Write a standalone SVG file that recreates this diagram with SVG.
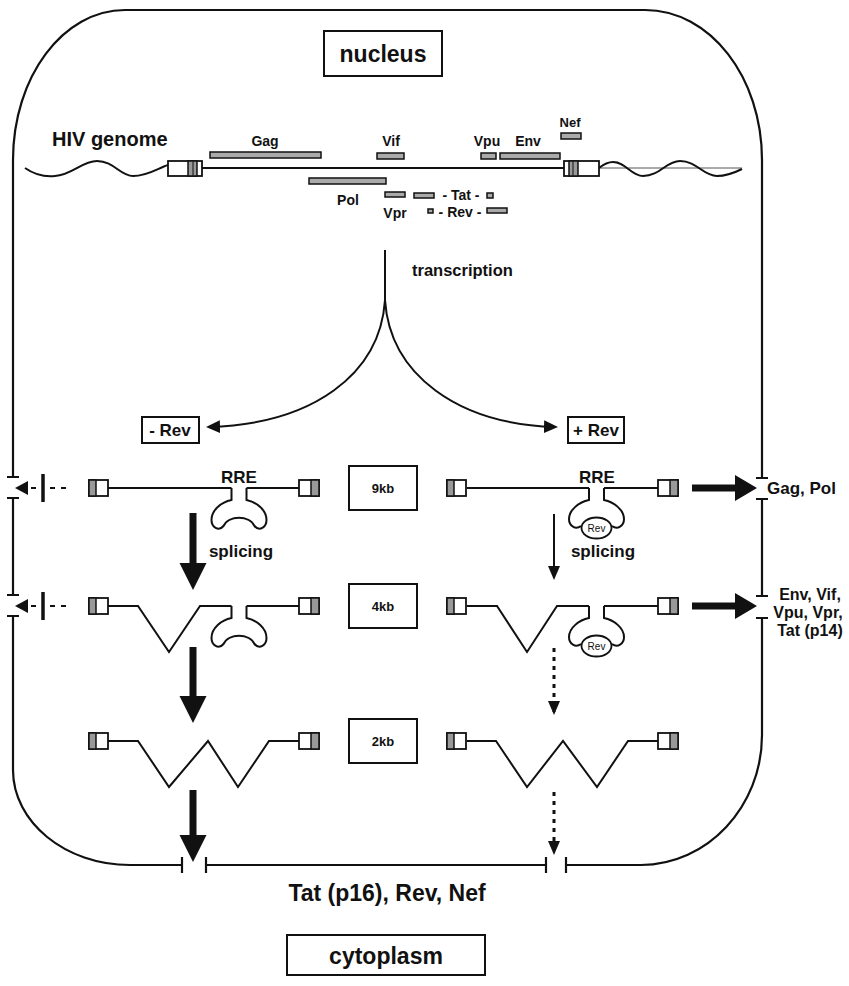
<svg xmlns="http://www.w3.org/2000/svg" xmlns:xlink="http://www.w3.org/1999/xlink" width="849" height="986" viewBox="0 0 849 986">
<style>
  text { font-family: "Liberation Sans", Arial, Helvetica, sans-serif; font-weight: bold; fill: #111; }
  .ln { fill: none; stroke: #111; stroke-width: 2; }
  .mem { fill: none; stroke: #111; stroke-width: 2.2; }
  .box { fill: #fff; stroke: #111; stroke-width: 2; }
  .bar { fill: #aaa; stroke: #111; stroke-width: 1.5; }
  .gray { fill: #999; stroke: #111; stroke-width: 1.5; }
  .ltr { fill: #fff; stroke: #111; stroke-width: 1.8; }
  .solid { fill: #111; stroke: none; }
  .dot { fill: none; stroke: #111; stroke-width: 3; stroke-dasharray: 4 5; }
  .c { text-anchor: middle; }
</style>
<defs>
  <marker id="ah" markerUnits="userSpaceOnUse" markerWidth="14" markerHeight="13" refX="11" refY="6.5" orient="auto">
    <path d="M0,0 L14,6.5 L0,13 Z" fill="#111"/>
  </marker>
  <marker id="ahv" markerUnits="userSpaceOnUse" markerWidth="14" markerHeight="12" refX="11" refY="6" orient="auto">
    <path d="M0,0 L14,6 L0,12 Z" fill="#111"/>
  </marker>
  <path id="claw" class="ln" d="M-7.5,0 V12 C-17.5,14 -27.5,22 -27.5,32 C-27.5,39 -20.5,44 -15.5,38 C-10.5,27 10.5,27 15.5,38 C20.5,44 27.5,39 27.5,32 C27.5,22 17.5,14 7.5,12 V0"/>
  <g id="clawRev">
    <path class="ln" d="M-7.5,0 V12 C-17.5,14 -27.5,22 -27.5,31 C-27.5,38 -21,42 -15.5,38 M7.5,0 V12 C17.5,14 27.5,22 27.5,31 C27.5,38 21,42 15.5,38"/>
    <ellipse cx="0" cy="40" rx="15" ry="10.5" fill="#fff" stroke="#111" stroke-width="1.8"/>
    <text x="0" y="44" class="c" style="font-size:10px;font-weight:normal">Rev</text>
  </g>
  <g id="ltrL">
    <rect x="0" y="-8" width="19" height="16" class="ltr"/>
    <rect x="0" y="-8" width="7" height="16" class="gray"/>
  </g>
  <g id="ltrR">
    <rect x="0" y="-8" width="20" height="16" class="ltr"/>
    <rect x="12" y="-8" width="8" height="16" class="gray"/>
  </g>
</defs>

<rect width="849" height="986" fill="#fff"/>

<!-- membrane / nuclear envelope -->
<g id="membrane">
  <path class="mem" d="M13,477 V160 C13,77 63,10 125,10 H645 C710,10 762,77 762,160 V478"/>
  <path class="mem" d="M7,477 H19 M756,478 H768"/>
  <path class="mem" d="M13,498 V595 M7,498 H19 M7,595 H19"/>
  <path class="mem" d="M762,499 V596 M756,499 H768 M756,596 H768"/>
  <path class="mem" d="M13,616 V770 C13,822 65,865 130,865 H182 M7,616 H19 M182,857 V873"/>
  <path class="mem" d="M206,857 V873 M206,865 H546 M546,857 V873"/>
  <path class="mem" d="M566,857 V873 M566,865 H641 C707,865 762,807 762,735 V618 M756,618 H768"/>
</g>

<g id="nucleus-label">
  <rect x="324" y="31" width="118" height="45" class="box"/>
  <text x="383" y="62" class="c" style="font-size:23px">nucleus</text>
</g>

<g id="hiv-genome">
  <text x="52" y="146" style="font-size:20px">HIV genome</text>
  <path class="ln" d="M25,168 C35,175 45,177 55,176 C72,175 82,161 97,161 C114,161 120,176 133,176 C148,176 158,168 168,165"/>
  <line x1="599" y1="168" x2="742" y2="168" stroke="#555" stroke-width="1"/>
  <path class="ln" d="M599,168 C604,164 608,162 613,162 C626,162 631,176 643,176 C660,176 666,161 680,161 C697,161 703,176 717,176 C728,176 736,172 742,169"/>
  <line x1="202" y1="168" x2="564" y2="168" class="ln"/>
  <rect x="168" y="161" width="34" height="15" class="ltr"/>
  <rect x="188" y="161" width="9" height="15" class="gray"/>
  <line x1="193" y1="161" x2="193" y2="176" stroke="#111" stroke-width="1"/>
  <rect x="564" y="161" width="35" height="15" class="ltr"/>
  <rect x="569" y="161" width="9" height="15" class="gray"/>
  <line x1="573" y1="161" x2="573" y2="176" stroke="#111" stroke-width="1"/>
  <rect x="210" y="152" width="111" height="6" class="bar"/>
  <rect x="377" y="153" width="27" height="6" class="bar"/>
  <rect x="481" y="153" width="15" height="6" class="bar"/>
  <rect x="500" y="153" width="60" height="6" class="bar"/>
  <rect x="561" y="133" width="20" height="6" class="bar"/>
  <rect x="309" y="178" width="77" height="6" class="bar"/>
  <rect x="385" y="192" width="20" height="5" class="bar"/>
  <rect x="414" y="193" width="20" height="5" class="bar"/>
  <rect x="487" y="193" width="6" height="5" class="bar"/>
  <rect x="428" y="209" width="5" height="4" class="bar"/>
  <rect x="487" y="208" width="20" height="5" class="bar"/>
  <text x="265" y="146" class="c" style="font-size:14px">Gag</text>
  <text x="391" y="146" class="c" style="font-size:14px">Vif</text>
  <text x="487" y="146" class="c" style="font-size:14px">Vpu</text>
  <text x="528" y="146" class="c" style="font-size:14px">Env</text>
  <text x="570" y="127" class="c" style="font-size:13px">Nef</text>
  <text x="348" y="205" class="c" style="font-size:14px">Pol</text>
  <text x="395" y="218" class="c" style="font-size:14px">Vpr</text>
  <text x="461" y="200" class="c" style="font-size:14px">- Tat -</text>
  <text x="460" y="217" class="c" style="font-size:14px">- Rev -</text>
</g>

<g id="transcription">
  <text x="412" y="276" style="font-size:16.5px">transcription</text>
</g>

<g id="minus-rev">
  <rect x="142" y="417" width="57" height="26" class="box"/>
  <text x="170" y="436" class="c" style="font-size:17px">- Rev</text>
</g>
<g id="plus-rev">
  <rect x="568" y="417" width="56" height="26" class="box"/>
  <text x="596" y="436" class="c" style="font-size:17px">+ Rev</text>
</g>

<!-- size boxes -->
<g id="size-9kb">
  <rect x="349" y="466" width="68" height="44" class="box"/>
  <text x="383" y="493" class="c" style="font-size:13px">9kb</text>
</g>
<g id="size-4kb">
  <rect x="349" y="584" width="68" height="44" class="box"/>
  <text x="383" y="611" class="c" style="font-size:13px">4kb</text>
</g>
<g id="size-2kb">
  <rect x="349" y="719" width="68" height="44" class="box"/>
  <text x="383" y="746" class="c" style="font-size:13px">2kb</text>
</g>

<!-- transcripts, - Rev column -->
<g id="minus-9kb">
  <path class="ln" d="M108,488 H231.5 M246.5,488 H299"/>
  <use xlink:href="#claw" href="#claw" transform="translate(239,488)"/>
  <use xlink:href="#ltrL" href="#ltrL" transform="translate(89,488)"/>
  <use xlink:href="#ltrR" href="#ltrR" transform="translate(299,488)"/>
  <text x="239" y="483" class="c" style="font-size:17px">RRE</text>
</g>
<g id="minus-4kb">
  <path class="ln" d="M108,606 H138 L169,652 L200,606 H231.5 M246.5,606 H299"/>
  <use xlink:href="#claw" href="#claw" transform="translate(239,606)"/>
  <use xlink:href="#ltrL" href="#ltrL" transform="translate(89,606)"/>
  <use xlink:href="#ltrR" href="#ltrR" transform="translate(299,606)"/>
</g>
<g id="minus-2kb">
  <path class="ln" d="M108,741 H138 L169,787 L208,741 L238,787 L269,741 H299"/>
  <use xlink:href="#ltrL" href="#ltrL" transform="translate(89,741)"/>
  <use xlink:href="#ltrR" href="#ltrR" transform="translate(299,741)"/>
</g>

<!-- transcripts, + Rev column -->
<g id="plus-9kb">
  <path class="ln" d="M467,488 H589 M604,488 H658"/>
  <use xlink:href="#clawRev" href="#clawRev" transform="translate(596.5,488)"/>
  <use xlink:href="#ltrL" href="#ltrL" transform="translate(447,488)"/>
  <use xlink:href="#ltrR" href="#ltrR" transform="translate(658,488)"/>
  <text x="597" y="483" class="c" style="font-size:17px">RRE</text>
</g>
<g id="plus-4kb">
  <path class="ln" d="M467,606 H497 L527,652 L557,606 H589 M604,606 H658"/>
  <use xlink:href="#clawRev" href="#clawRev" transform="translate(596.5,606)"/>
  <use xlink:href="#ltrL" href="#ltrL" transform="translate(447,606)"/>
  <use xlink:href="#ltrR" href="#ltrR" transform="translate(658,606)"/>
</g>
<g id="plus-2kb">
  <path class="ln" d="M467,741 H496 L527,787 L563,741 L597,787 L628,741 H658"/>
  <use xlink:href="#ltrL" href="#ltrL" transform="translate(447,741)"/>
  <use xlink:href="#ltrR" href="#ltrR" transform="translate(658,741)"/>
</g>

<g id="splicing-labels">
  <text x="241" y="557" class="c" style="font-size:17px">splicing</text>
  <text x="603" y="557" class="c" style="font-size:17px">splicing</text>
</g>

<g id="products">
  <text x="767" y="494" style="font-size:17px">Gag, Pol</text>
  <text x="810" y="600" class="c" style="font-size:16px">Env, Vif,</text>
  <text x="808" y="618" class="c" style="font-size:16px">Vpu, Vpr,</text>
  <text x="810" y="636" class="c" style="font-size:16px">Tat (p14)</text>
  <text x="387" y="901" class="c" style="font-size:23px">Tat (p16), Rev, Nef</text>
</g>

<g id="cytoplasm-label">
  <rect x="287" y="935" width="198" height="40" class="box"/>
  <text x="386" y="964" class="c" style="font-size:23px">cytoplasm</text>
</g>

<!-- connectors -->
<g id="connectors">
  <line x1="385" y1="250" x2="385" y2="302" class="ln" stroke-width="2.2"/>
  <path class="ln" stroke-width="2.4" d="M385,300 C380,375 312,424 209,427" marker-end="url(#ah)"/>
  <path class="ln" stroke-width="2.4" d="M385,300 C390,375 458,424 555,427" marker-end="url(#ah)"/>

  <path class="solid" d="M189.5,513 H196.5 V563 H206.5 L193,590 L179.5,563 H189.5 Z"/>
  <path class="solid" d="M189.5,647 H196.5 V696 H206.5 L193,723 L179.5,696 H189.5 Z"/>
  <path class="solid" d="M189.5,790 H196.5 V835 H206.5 L193,862 L179.5,835 H189.5 Z"/>

  <line x1="554" y1="514" x2="554" y2="577" class="ln" marker-end="url(#ahv)"/>
  <line x1="554" y1="648" x2="554" y2="712" class="dot" marker-end="url(#ahv)"/>
  <line x1="554" y1="792" x2="554" y2="852" class="dot" marker-end="url(#ahv)"/>

  <path class="solid" d="M692,484.5 H735 V475 L757,488 L735,501 V491.5 H692 Z"/>
  <path class="solid" d="M692,602.5 H735 V593 L757,606 L735,619 V609.5 H692 Z"/>

  <g id="blocked-9kb">
    <path class="solid" d="M15,488 L28,481 V495 Z"/>
    <path class="ln" d="M31,488 H36 M50,488 H55 M61,488 H66"/>
    <line x1="43" y1="474" x2="43" y2="502" stroke="#111" stroke-width="3.5"/>
  </g>
  <g id="blocked-4kb">
    <path class="solid" d="M15,606 L28,599 V613 Z"/>
    <path class="ln" d="M31,606 H36 M50,606 H55 M61,606 H66"/>
    <line x1="43" y1="592" x2="43" y2="620" stroke="#111" stroke-width="3.5"/>
  </g>
</g>
</svg>
